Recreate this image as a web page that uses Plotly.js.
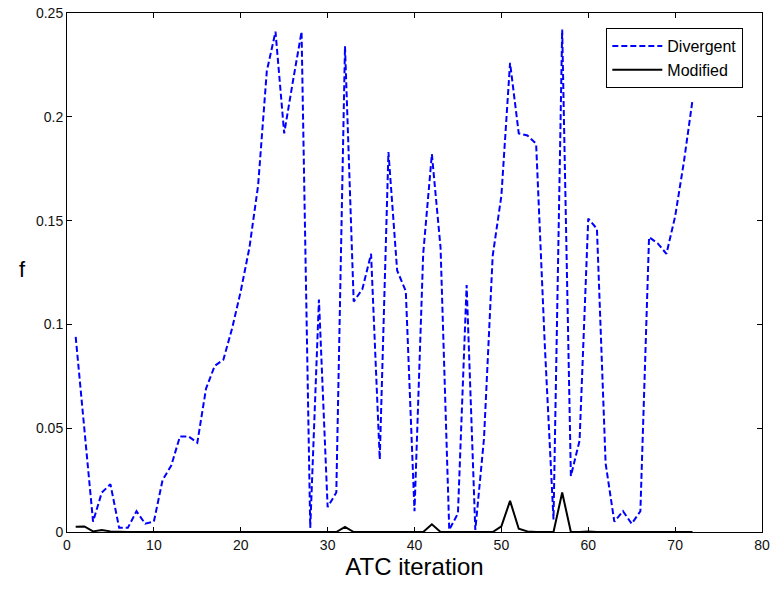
<!DOCTYPE html>
<html>
<head>
<meta charset="utf-8">
<script src="https://cdn.plot.ly/plotly-3.0.1.min.js"></script>
<style>html,body{margin:0;padding:0;background:#fff;}#chart{width:771px;height:590px;}</style>
</head>
<body>
<div id="chart"></div>
<script>
const iterations = [1,2,3,4,5,6,7,8,9,10,11,12,13,14,15,16,17,18,19,20,21,22,23,24,25,26,27,28,29,30,31,32,33,34,35,36,37,38,39,40,41,42,43,44,45,46,47,48,49,50,51,52,53,54,55,56,57,58,59,60,61,62,63,64,65,66,67,68,69,70,71,72];
const divergent = [0.094,0.050,0.005,0.019,0.023,0.002,0.002,0.010,0.004,0.005,
  0.025,0.032,0.046,0.046,0.043,0.069,0.080,0.083,0.098,0.116,
  0.137,0.167,0.222,0.241,0.192,0.217,0.241,0.002,0.112,0.012,
  0.019,0.234,0.111,0.117,0.134,0.035,0.183,0.126,0.116,0.010,
  0.134,0.182,0.137,0.001,0.009,0.119,0.001,0.045,0.133,0.162,
  0.226,0.192,0.191,0.187,0.090,0.006,0.242,0.027,0.044,0.151,
  0.146,0.033,0.005,0.010,0.004,0.010,0.142,0.139,0.134,0.152,
  0.178,0.208];
const modified = [0.0025,0.0027,0.0003,0.001,0.0003,0,0,0,0,0,
  0,0,0,0,0,0,0,0,0,0,
  0,0,0,0,0,0,0,0,0,0,
  0,0.0025,0,0,0,0,0,0,0,0,
  0,0.0037,0,0,0,0,0,0,0,0.0027,
  0.015,0.0016,0.0003,0,0,0,0.019,0,0,0.0003,
  0,0,0,0,0,0,0,0,0,0,
  0,0];
const seriesNames = ['Divergent','Modified'];
const xTicks = [0,10,20,30,40,50,60,70,80];
const yTicks = [0,0.05,0.1,0.15,0.2,0.25];
const yTickText = ['0','0.05','0.1','0.15','0.2','0.25'];

const fontFam = 'Liberation Sans, Arial, sans-serif';
const traces = [
  {x: iterations, y: divergent, name: seriesNames[0], type: 'scatter', mode: 'lines',
   line: {color: '#0000ff', width: 2, dash: '6px,3px'}},
  {x: iterations, y: modified, name: seriesNames[1], type: 'scatter', mode: 'lines',
   line: {color: '#000000', width: 2}}
];
const axisCommon = {
  showline: true, linecolor: '#000', linewidth: 1, mirror: 'ticks',
  ticks: 'inside', ticklen: 5, tickcolor: '#000', tickwidth: 1,
  showgrid: false, zeroline: false, ticklabeloverflow: 'allow',
  tickfont: {family: fontFam, size: 14, color: '#111'}
};
const layout = {
  width: 771, height: 590,
  margin: {l: 67, r: 9, t: 13, b: 58},
  paper_bgcolor: '#fff', plot_bgcolor: '#fff',
  showlegend: true,
  legend: {x: 0.776, y: 0.971, xanchor: 'left', yanchor: 'top',
    bordercolor: '#000', borderwidth: 1, bgcolor: '#fff', itemwidth: 50,
    font: {family: fontFam, size: 16, color: '#000'}, tracegroupgap: 0},
  xaxis: Object.assign({}, axisCommon, {range: [0, 80], tickvals: xTicks,
    title: {text: 'ATC iteration', font: {family: fontFam, size: 24, color: '#000'}, standoff: 6}}),
  yaxis: Object.assign({}, axisCommon, {range: [0, 0.25], tickvals: yTicks, ticktext: yTickText}),
  annotations: [{text: 'f', xref: 'paper', yref: 'paper', x: -0.064, y: 0.505,
    xanchor: 'center', yanchor: 'middle', showarrow: false,
    font: {family: fontFam, size: 22, color: '#000'}}]
};
Plotly.newPlot('chart', traces, layout, {displayModeBar: false, staticPlot: true});
</script>
</body>
</html>
